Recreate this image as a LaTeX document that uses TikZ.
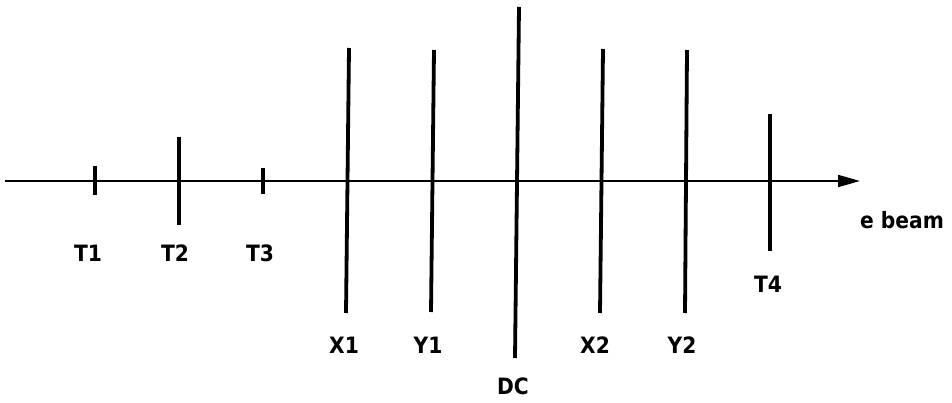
\documentclass[tikz,border=0pt]{standalone}
\usepackage{fontspec}
\setmainfont{DejaVu Sans Condensed}
\usetikzlibrary{arrows.meta}
\begin{document}
\begin{tikzpicture}[x=1pt,y=-1pt]
\tikzstyle{every node}+=[inner sep=0pt,font=\fontsize{22.5}{26}\selectfont\bfseries]
\tikzstyle{plane}=[black,line width=3.8pt]
\tikzstyle{beamline}=[black,line width=1.8pt,-{Triangle[length=22pt,width=12pt]}]
\useasboundingbox (0,0) rectangle (952,403);
\coordinate (b0) at (5,181);
\coordinate (b1) at (860,181);
\draw [beamline] (b0) -- (b1);
\draw (902,220) node (eb) {e beam};
\coordinate (t1a) at (95,166);
\coordinate (t1b) at (95,195);
\draw [plane] (t1a) -- (t1b);
\draw (88,253) node (t1) {T1};
\coordinate (t2a) at (179,137);
\coordinate (t2b) at (179,225);
\draw [plane] (t2a) -- (t2b);
\draw (175,253) node (t2) {T2};
\coordinate (t3a) at (263,168);
\coordinate (t3b) at (263,194);
\draw [plane] (t3a) -- (t3b);
\draw (260,253) node (t3) {T3};
\coordinate (x1a) at (349,48);
\coordinate (x1b) at (346,313);
\draw [plane] (x1a) -- (x1b);
\draw (344,345) node (x1) {X1};
\coordinate (y1a) at (434,50);
\coordinate (y1b) at (431,312);
\draw [plane] (y1a) -- (y1b);
\draw (428,345) node (y1) {Y1};
\coordinate (dca) at (519,7);
\coordinate (dcb) at (515,358);
\draw [plane] (dca) -- (dcb);
\draw (513,386) node (dc) {DC};
\coordinate (x2a) at (603,49);
\coordinate (x2b) at (600,313);
\draw [plane] (x2a) -- (x2b);
\draw (595,345) node (x2) {X2};
\coordinate (y2a) at (687,50);
\coordinate (y2b) at (685,313);
\draw [plane] (y2a) -- (y2b);
\draw (682,345) node (y2) {Y2};
\coordinate (t4a) at (770,114);
\coordinate (t4b) at (770,251);
\draw [plane] (t4a) -- (t4b);
\draw (768,284) node (t4) {T4};
\end{tikzpicture}
\end{document}
